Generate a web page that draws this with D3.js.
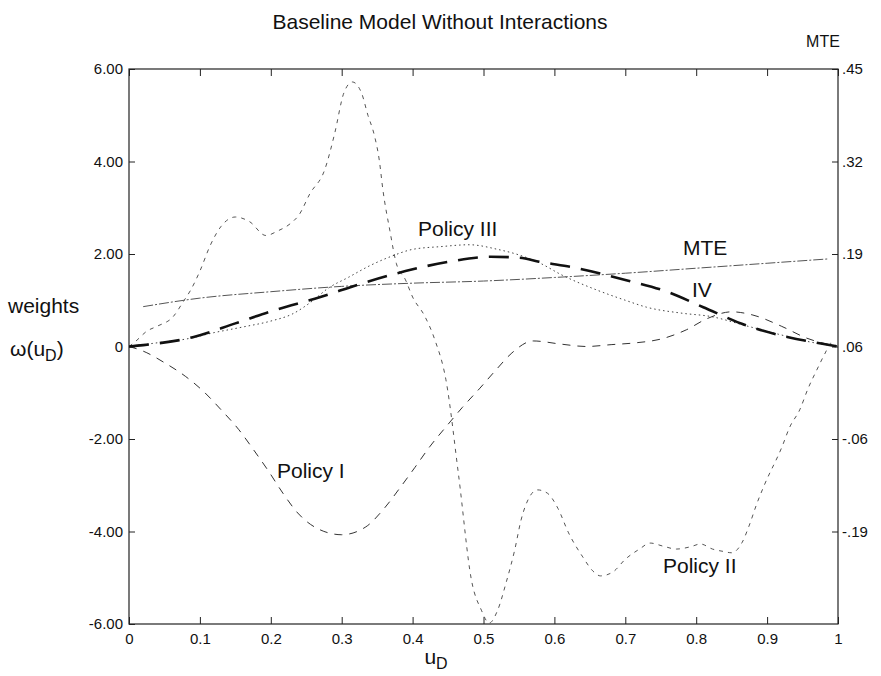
<!DOCTYPE html>
<html>
<head>
<meta charset="utf-8">
<script src="https://cdn.jsdelivr.net/npm/d3@7"></script>
<style>
  body { margin: 0; background: #fff; }
  svg { font-family: "Liberation Sans", Arial, sans-serif; }
</style>
</head>
<body>
<svg id="chart" width="881" height="676"></svg>
<script>
// weights on the left axis, MTE on the right axis
const xTicks = [0, 0.1, 0.2, 0.3, 0.4, 0.5, 0.6, 0.7, 0.8, 0.9, 1];
const xLabels = ["0", "0.1", "0.2", "0.3", "0.4", "0.5", "0.6", "0.7", "0.8", "0.9", "1"];
const leftTicks = [6, 4, 2, 0, -2, -4, -6];
const leftLabels = ["6.00", "4.00", "2.00", "0", "-2.00", "-4.00", "-6.00"];
const rightTicks = [6, 4, 2, 0, -2, -4];   // same heights as the weight ticks
const rightLabels = [".45", ".32", ".19", ".06", "-.06", "-.19"];

// [u_D, weight]
const policyI = [[0,0],[0.02,-0.1],[0.05,-0.35],[0.08,-0.65],[0.105,-0.97],[0.13,-1.37],[0.155,-1.8],
  [0.176,-2.24],[0.197,-2.7],[0.217,-3.17],[0.238,-3.6],[0.265,-3.93],[0.3,-4.07],[0.334,-3.9],
  [0.36,-3.5],[0.382,-3.06],[0.403,-2.62],[0.424,-2.17],[0.448,-1.72],[0.47,-1.32],[0.495,-0.9],
  [0.518,-0.5],[0.54,-0.14],[0.57,0.12],[0.61,0.05],[0.645,0.0],[0.68,0.04],[0.715,0.08],
  [0.75,0.16],[0.786,0.36],[0.815,0.6],[0.85,0.75],[0.88,0.68],[0.92,0.44],[0.956,0.18],[1,0]];

const policyII = [[0,0],[0.01,0.12],[0.025,0.33],[0.04,0.44],[0.062,0.64],[0.077,0.98],[0.087,1.22],
  [0.1,1.63],[0.115,2.2],[0.13,2.6],[0.15,2.8],[0.17,2.7],[0.193,2.4],[0.21,2.5],[0.227,2.65],
  [0.24,2.85],[0.255,3.3],[0.276,3.82],[0.29,4.6],[0.303,5.48],[0.315,5.72],[0.328,5.48],
  [0.337,5.0],[0.346,4.57],[0.353,4.03],[0.358,3.4],[0.368,2.5],[0.377,1.8],[0.39,1.44],
  [0.4,1.07],[0.417,0.66],[0.431,0.16],[0.447,-0.72],[0.465,-2.8],[0.483,-5.05],[0.497,-5.7],
  [0.508,-5.98],[0.52,-5.7],[0.532,-5.1],[0.544,-4.4],[0.553,-3.75],[0.565,-3.25],[0.576,-3.1],
  [0.59,-3.17],[0.605,-3.5],[0.62,-4.03],[0.64,-4.55],[0.654,-4.85],[0.665,-4.96],[0.683,-4.87],
  [0.7,-4.6],[0.72,-4.38],[0.735,-4.25],[0.754,-4.32],[0.772,-4.38],[0.792,-4.33],[0.806,-4.27],
  [0.823,-4.38],[0.838,-4.43],[0.85,-4.46],[0.865,-4.23],[0.875,-3.86],[0.885,-3.42],[0.896,-3.0],
  [0.921,-2.17],[0.932,-1.74],[0.946,-1.37],[0.958,-0.9],[0.97,-0.51],[0.982,-0.14],[0.99,0.07],[1,0]];

const policyIII = [[0,0],[0.05,0.1],[0.08,0.16],[0.12,0.3],[0.16,0.42],[0.2,0.55],[0.23,0.7],
  [0.26,1.0],[0.28,1.25],[0.31,1.5],[0.34,1.75],[0.37,1.95],[0.4,2.1],[0.44,2.16],[0.48,2.2],
  [0.52,2.1],[0.55,1.98],[0.58,1.8],[0.61,1.55],[0.66,1.22],[0.7,1.0],[0.73,0.85],[0.78,0.72],
  [0.82,0.65],[0.87,0.45],[0.92,0.25],[0.96,0.1],[1,0]];

const iv = [[0,0],[0.02,0.03],[0.09,0.2],[0.15,0.5],[0.2,0.76],[0.27,1.07],[0.33,1.37],[0.39,1.63],
  [0.45,1.83],[0.51,1.94],[0.55,1.92],[0.58,1.83],[0.63,1.7],[0.7,1.44],[0.76,1.18],[0.81,0.85],
  [0.87,0.46],[0.93,0.2],[0.97,0.08],[1,0]];

// [u_D, MTE]
const mte = [[0.02,0.116],[0.1,0.128],[0.2,0.137],[0.3,0.1445],[0.4,0.149],[0.5,0.152],
  [0.6,0.157],[0.7,0.163],[0.8,0.170],[0.9,0.177],[0.985,0.183]];

const svg = d3.select("#chart");
const mLeft = 129, mRight = 838, mTop = 69, mBottom = 624;

const x = d3.scaleLinear().domain([0, 1]).range([mLeft, mRight]);
const y = d3.scaleLinear().domain([-6, 6]).range([mBottom, mTop]);
// right axis: .06 sits at weight 0, .45 at weight 6
const yMte = d3.scaleLinear().domain([0.06 - 0.39, 0.45]).range([mBottom, mTop]);

// frame
svg.append("rect").attr("x", mLeft).attr("y", mTop)
  .attr("width", mRight - mLeft).attr("height", mBottom - mTop)
  .attr("fill", "none").attr("stroke", "#222").attr("stroke-width", 1.2);

const tickFont = g => g.selectAll("text").attr("font-size", 15).attr("fill", "#111")
  .attr("font-family", "Liberation Sans, Arial, sans-serif");
const noDomain = g => { g.select(".domain").remove(); g.selectAll("line").attr("stroke", "#222"); };

svg.append("g").attr("transform", `translate(0,${mBottom})`)
  .call(d3.axisBottom(x).tickValues(xTicks).tickFormat((d, i) => xLabels[i]).tickSizeInner(-7).tickSizeOuter(0).tickPadding(9))
  .call(noDomain).call(tickFont);

svg.append("g").attr("transform", `translate(0,${mTop})`)
  .call(d3.axisTop(x).tickValues(xTicks).tickFormat("").tickSizeInner(-7).tickSizeOuter(0))
  .call(noDomain);

svg.append("g").attr("transform", `translate(${mLeft},0)`)
  .call(d3.axisLeft(y).tickValues(leftTicks).tickFormat((d, i) => leftLabels[i]).tickSizeInner(-6).tickSizeOuter(0).tickPadding(6))
  .call(noDomain).call(tickFont);

svg.append("g").attr("transform", `translate(${mRight},0)`)
  .call(d3.axisRight(y).tickValues(rightTicks).tickFormat((d, i) => rightLabels[i]).tickSizeInner(-6).tickSizeOuter(0).tickPadding(4))
  .call(noDomain).call(tickFont);

// clip
svg.append("clipPath").attr("id", "clip").append("rect")
  .attr("x", mLeft).attr("y", mTop).attr("width", mRight - mLeft).attr("height", mBottom - mTop);
const plot = svg.append("g").attr("clip-path", "url(#clip)");

const line = d3.line().x(d => x(d[0])).y(d => y(d[1])).curve(d3.curveMonotoneX);
const lineMte = d3.line().x(d => x(d[0])).y(d => yMte(d[1])).curve(d3.curveMonotoneX);

plot.append("path").attr("d", lineMte(mte)).attr("fill", "none")
  .attr("stroke", "#555").attr("stroke-width", 1).attr("stroke-dasharray", "10,2,2,2");
plot.append("path").attr("d", line(policyIII)).attr("fill", "none")
  .attr("stroke", "#444").attr("stroke-width", 1).attr("stroke-dasharray", "1.5,3");
plot.append("path").attr("d", line(policyI)).attr("fill", "none")
  .attr("stroke", "#333").attr("stroke-width", 1).attr("stroke-dasharray", "8,7");
plot.append("path").attr("d", line(policyII)).attr("fill", "none")
  .attr("stroke", "#555").attr("stroke-width", 1).attr("stroke-dasharray", "4,5");
plot.append("path").attr("d", line(iv)).attr("fill", "none")
  .attr("stroke", "#111").attr("stroke-width", 2.6).attr("stroke-dasharray", "20,11");

// text
const txt = (tx, ty, s, size, anchor) => svg.append("text").attr("x", tx).attr("y", ty)
  .attr("font-size", size).attr("fill", "#111").attr("text-anchor", anchor || "start").text(s);

txt(440, 29, "Baseline Model Without Interactions", 21, "middle");
txt(823, 47, "MTE", 16, "middle");
txt(8, 313, "weights", 21);
const om = txt(10, 356, "ω(u", 21);
om.append("tspan").attr("font-size", 16).attr("dy", 5).text("D");
om.append("tspan").attr("dy", -5).text(")");
const ud = txt(436, 664, "u", 21, "middle");
ud.append("tspan").attr("font-size", 16).attr("dy", 5).text("D");

txt(277, 478, "Policy I", 21);
txt(663, 573, "Policy II", 21);
txt(418, 236, "Policy III", 21);
txt(683, 255, "MTE", 21);
txt(692, 297, "IV", 21);
</script>
</body>
</html>
